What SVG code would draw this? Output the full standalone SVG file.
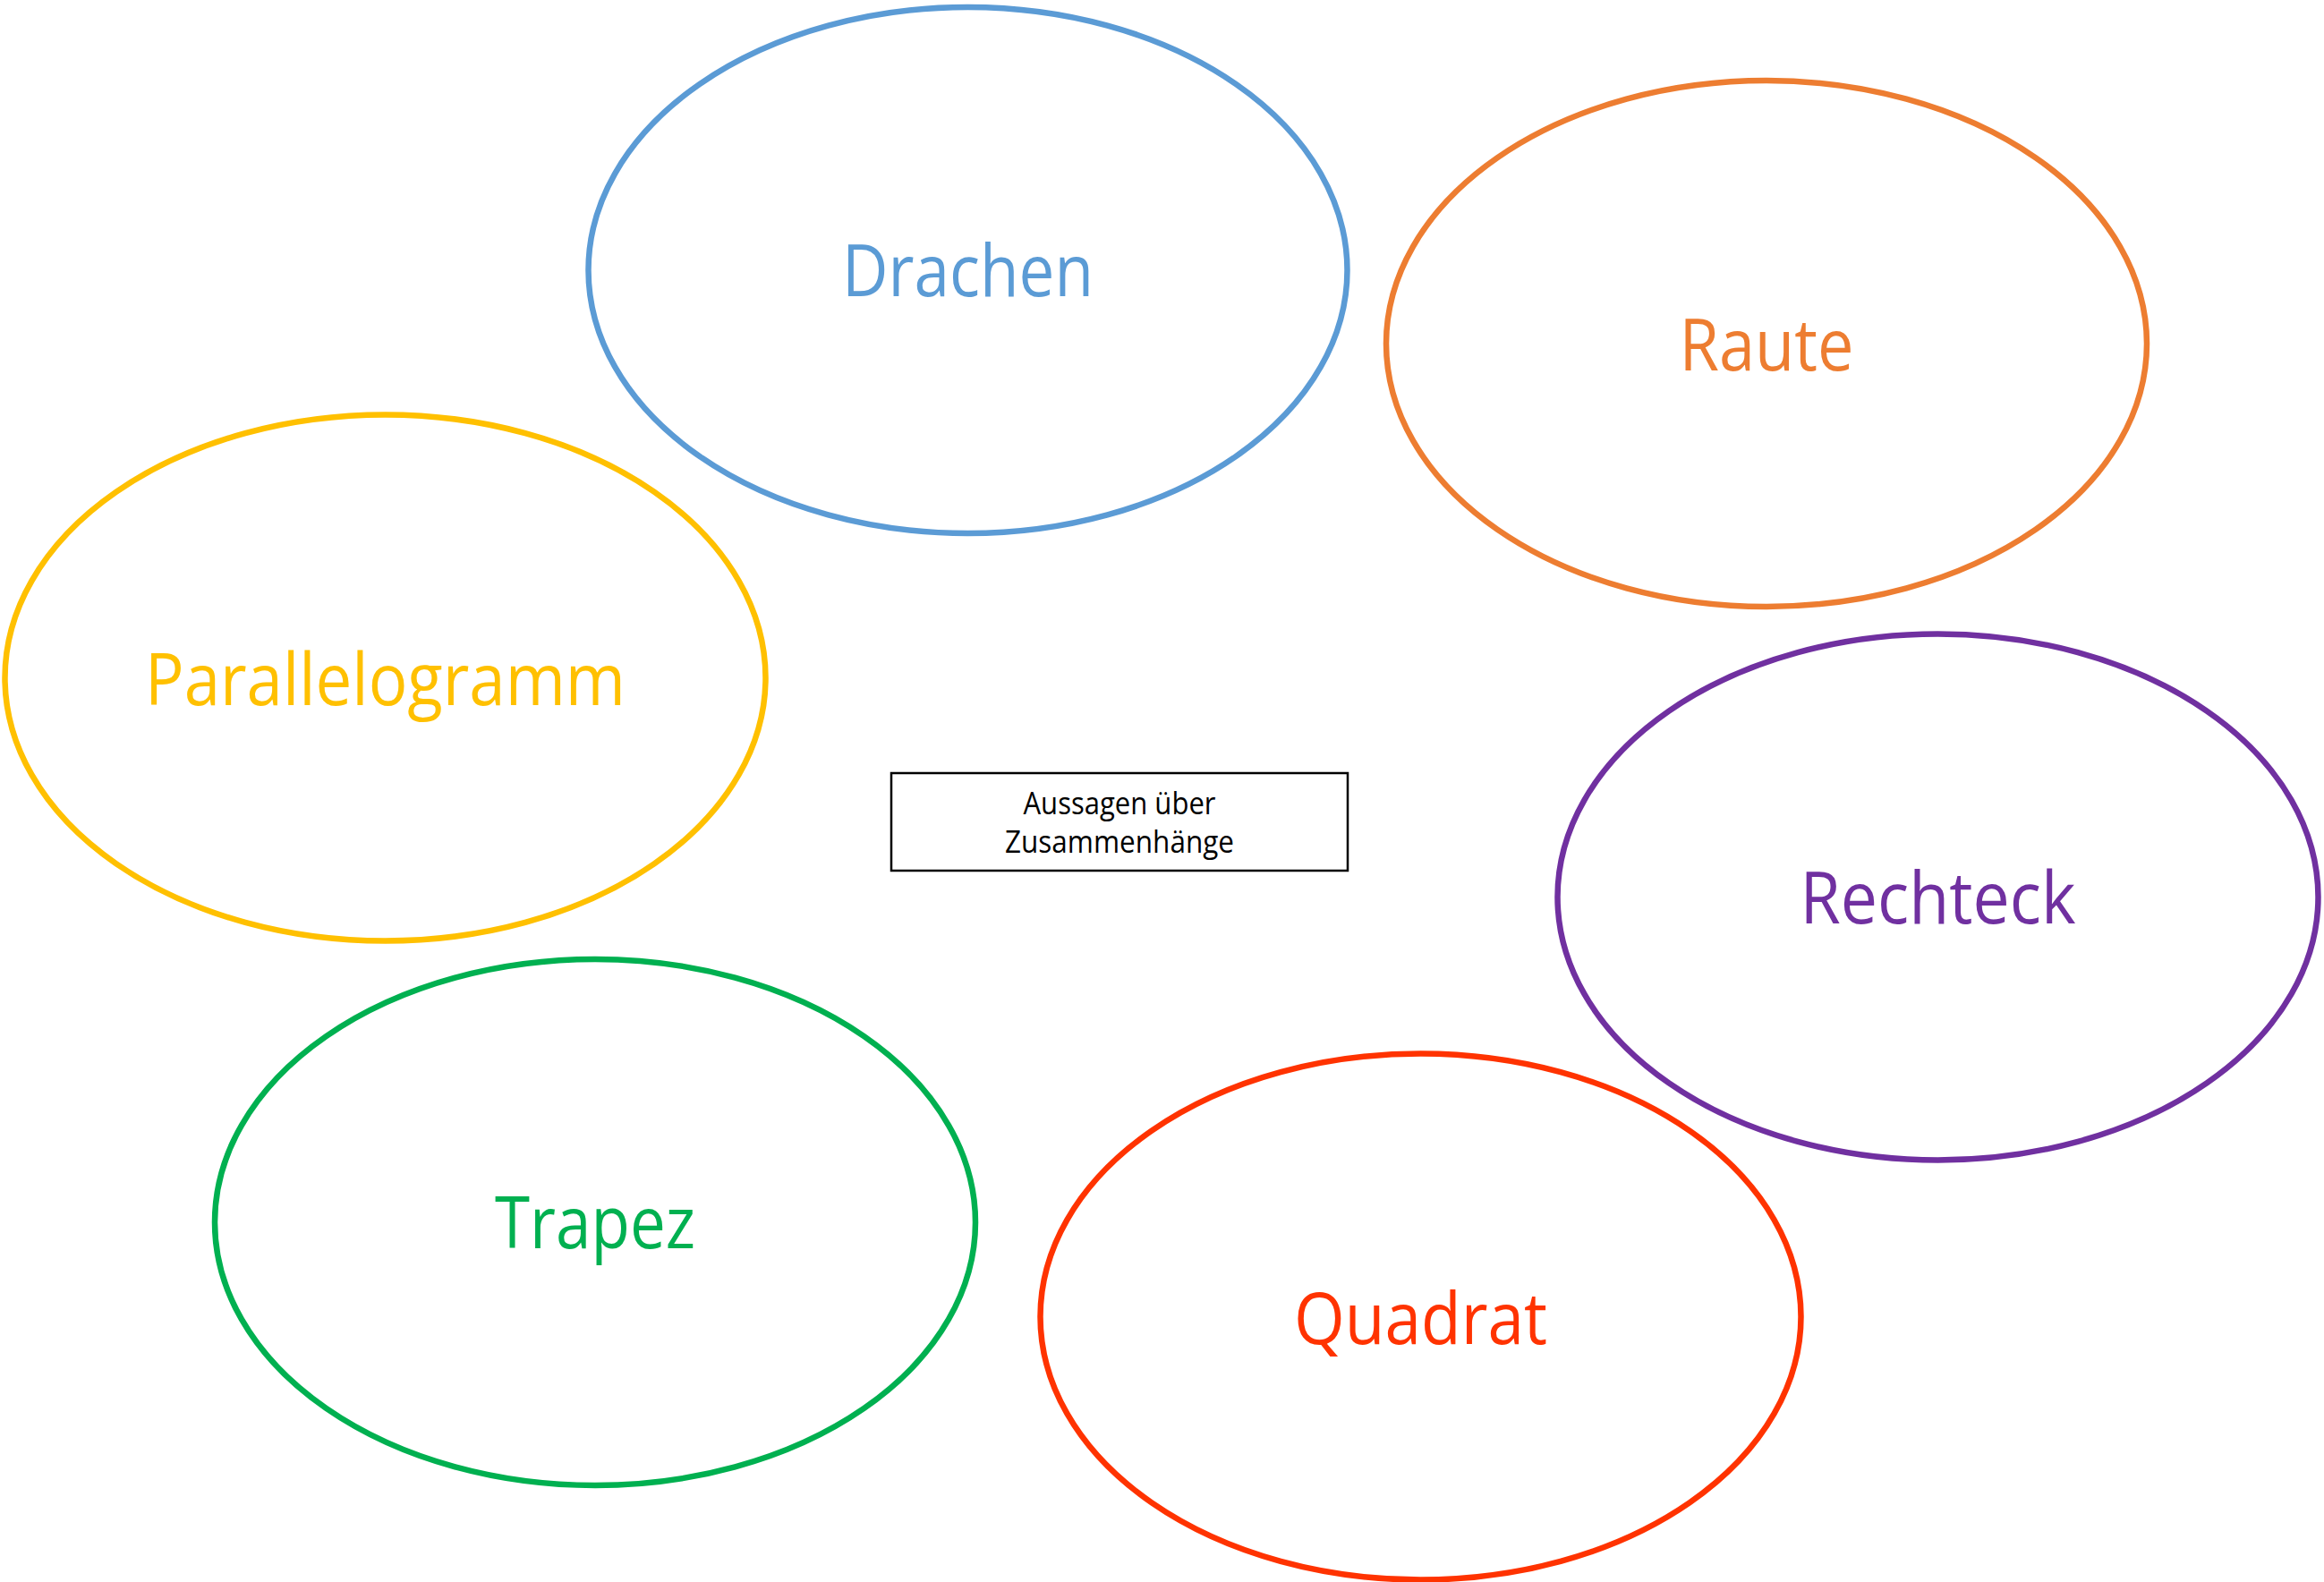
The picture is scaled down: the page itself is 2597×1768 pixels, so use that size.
<svg xmlns="http://www.w3.org/2000/svg" width="2597" height="1768" viewBox="0 0 2597 1768">
<style>
.node ellipse{fill:none;stroke-width:6.5}
.lbl{font-family:"Open Sans","Noto Sans",sans-serif;font-size:80px;text-anchor:middle}
.box rect{fill:#fff;stroke:#000;stroke-width:2.5}
.btxt{font-family:"Open Sans","Noto Sans",sans-serif;font-size:35px;text-anchor:middle;fill:#000}
</style>
<rect width="2597" height="1768" fill="#fff"/>
<g id="connectors"></g>
<g id="drachen" class="node">
<ellipse cx="1081.5" cy="302" rx="424" ry="294" stroke="#5B9BD5"/>
<text class="lbl" x="1081.5" y="331" fill="#5B9BD5" textLength="281" lengthAdjust="spacingAndGlyphs">Drachen</text>
</g>
<g id="raute" class="node">
<ellipse cx="1974" cy="384" rx="425" ry="294" stroke="#ED7D31"/>
<text class="lbl" x="1974" y="414" fill="#ED7D31" textLength="195" lengthAdjust="spacingAndGlyphs">Raute</text>
</g>
<g id="parallelogramm" class="node">
<ellipse cx="430.5" cy="757.5" rx="425" ry="294" stroke="#FFC000"/>
<text class="lbl" x="430.5" y="788" fill="#FFC000" textLength="537" lengthAdjust="spacingAndGlyphs">Parallelogramm</text>
</g>
<g id="rechteck" class="node">
<ellipse cx="2165.5" cy="1002.5" rx="425" ry="294" stroke="#7030A0"/>
<text class="lbl" x="2165.5" y="1032" fill="#7030A0" textLength="308" lengthAdjust="spacingAndGlyphs">Rechteck</text>
</g>
<g id="trapez" class="node">
<ellipse cx="665" cy="1366" rx="425" ry="294" stroke="#00B050"/>
<text class="lbl" x="665" y="1395" fill="#00B050" textLength="224" lengthAdjust="spacingAndGlyphs">Trapez</text>
</g>
<g id="quadrat" class="node">
<ellipse cx="1587.5" cy="1471.5" rx="425" ry="294" stroke="#FF3300"/>
<text class="lbl" x="1587.5" y="1502" fill="#FF3300" textLength="283" lengthAdjust="spacingAndGlyphs">Quadrat</text>
</g>
<g id="aussagen" class="box">
<rect x="996" y="864" width="510" height="109"/>
<text class="btxt" x="1251" y="910" textLength="215" lengthAdjust="spacingAndGlyphs">Aussagen über</text>
<text class="btxt" x="1251" y="953" textLength="256" lengthAdjust="spacingAndGlyphs">Zusammenhänge</text>
</g>
</svg>
